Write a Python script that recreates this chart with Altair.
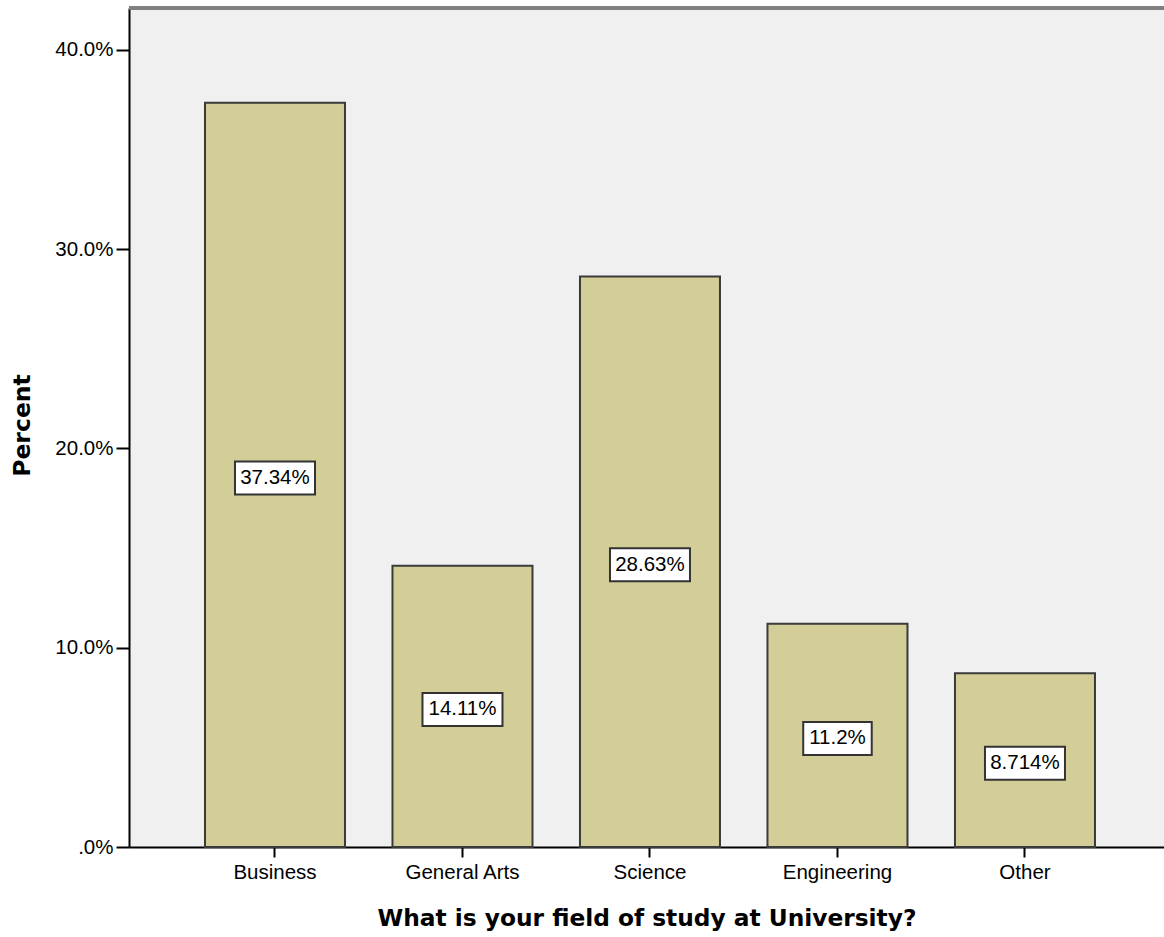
import altair as alt
import pandas as pd

categories = ["Business", "General Arts", "Science", "Engineering", "Other"]
percents = [37.34, 14.11, 28.63, 11.2, 8.714]

df = pd.DataFrame({"field": categories, "pct": percents})

W, H = 1035, 839

x_enc = alt.X(
    "field:N",
    sort=categories,
    scale=alt.Scale(paddingInner=0.2533, paddingOuter=0.3867, align=0.524),
    axis=alt.Axis(
        title="What is your field of study at University?",
        titleFont="DejaVu Sans", titleFontSize=23.3, titleFontWeight="bold",
        titleColor="#000000", titleY=71, titleBaseline="middle",
        labelFont="Liberation Sans", labelFontSize=20.5, labelColor="#000000",
        labelAngle=0, labelPadding=5, tickSize=10, tickColor="#000000",
        tickWidth=2, domainColor="#000000", domainWidth=2,
    ),
)

y_scale = alt.Scale(domain=[0, 42.1], nice=False, zero=True)

bars = alt.Chart(df).mark_bar(
    color="#d3ce97", stroke="#3a3a3a", strokeWidth=2
).encode(
    x=x_enc,
    y=alt.Y(
        "pct:Q",
        scale=y_scale,
        axis=alt.Axis(
            title="Percent",
            titleFont="DejaVu Sans", titleFontSize=23.5, titleFontWeight="bold",
            titleColor="#000000", titleX=-107, titleY=417, titleAngle=270,
            titleAlign="center", titleBaseline="middle",
            values=[0, 10, 20, 30, 40],
            labelExpr="datum.value == 0 ? '.0%' : format(datum.value, '.1f') + '%'",
            labelFont="Liberation Sans", labelFontSize=20.5, labelColor="#000000",
            labelPadding=3, tickSize=13, tickColor="#000000", tickWidth=2,
            domainColor="#000000", domainWidth=2, grid=False,
        ),
    ),
)

base = alt.Chart(df).transform_calculate(
    mid="datum.pct / 2",
    label="format(datum.pct, '.4~r') + '%'",
)

boxes = base.mark_rect(
    fill="#ffffff", stroke="#333333", strokeWidth=2,
    width=alt.ExprRef("11.5 * length(datum.label) + 11"), height=33, yOffset=3,
).encode(
    x=alt.X("field:N", sort=categories),
    y=alt.Y("mid:Q", scale=y_scale),
)

texts = base.mark_text(
    font="Liberation Sans", fontSize=20.5, color="#000000",
    align="center", baseline="middle", yOffset=3,
).encode(
    x=alt.X("field:N", sort=categories),
    y=alt.Y("mid:Q", scale=y_scale),
    text="label:N",
)

top_border = alt.Chart(df).mark_rule(color="#7f7f7f", strokeWidth=3).encode(
    x=alt.value(0), x2=alt.value(W), y=alt.value(0)
)

chart = alt.layer(bars, boxes, texts, top_border).properties(
    width=W, height=H,
    autosize=alt.AutoSizeParams(type="none"),
    padding={"left": 129, "top": 8, "right": 0, "bottom": 90},
    background="#ffffff",
).configure_view(fill="#f0f0f0", stroke=None)

chart.save("out.html", embed_options={"renderer": "svg", "actions": False})
